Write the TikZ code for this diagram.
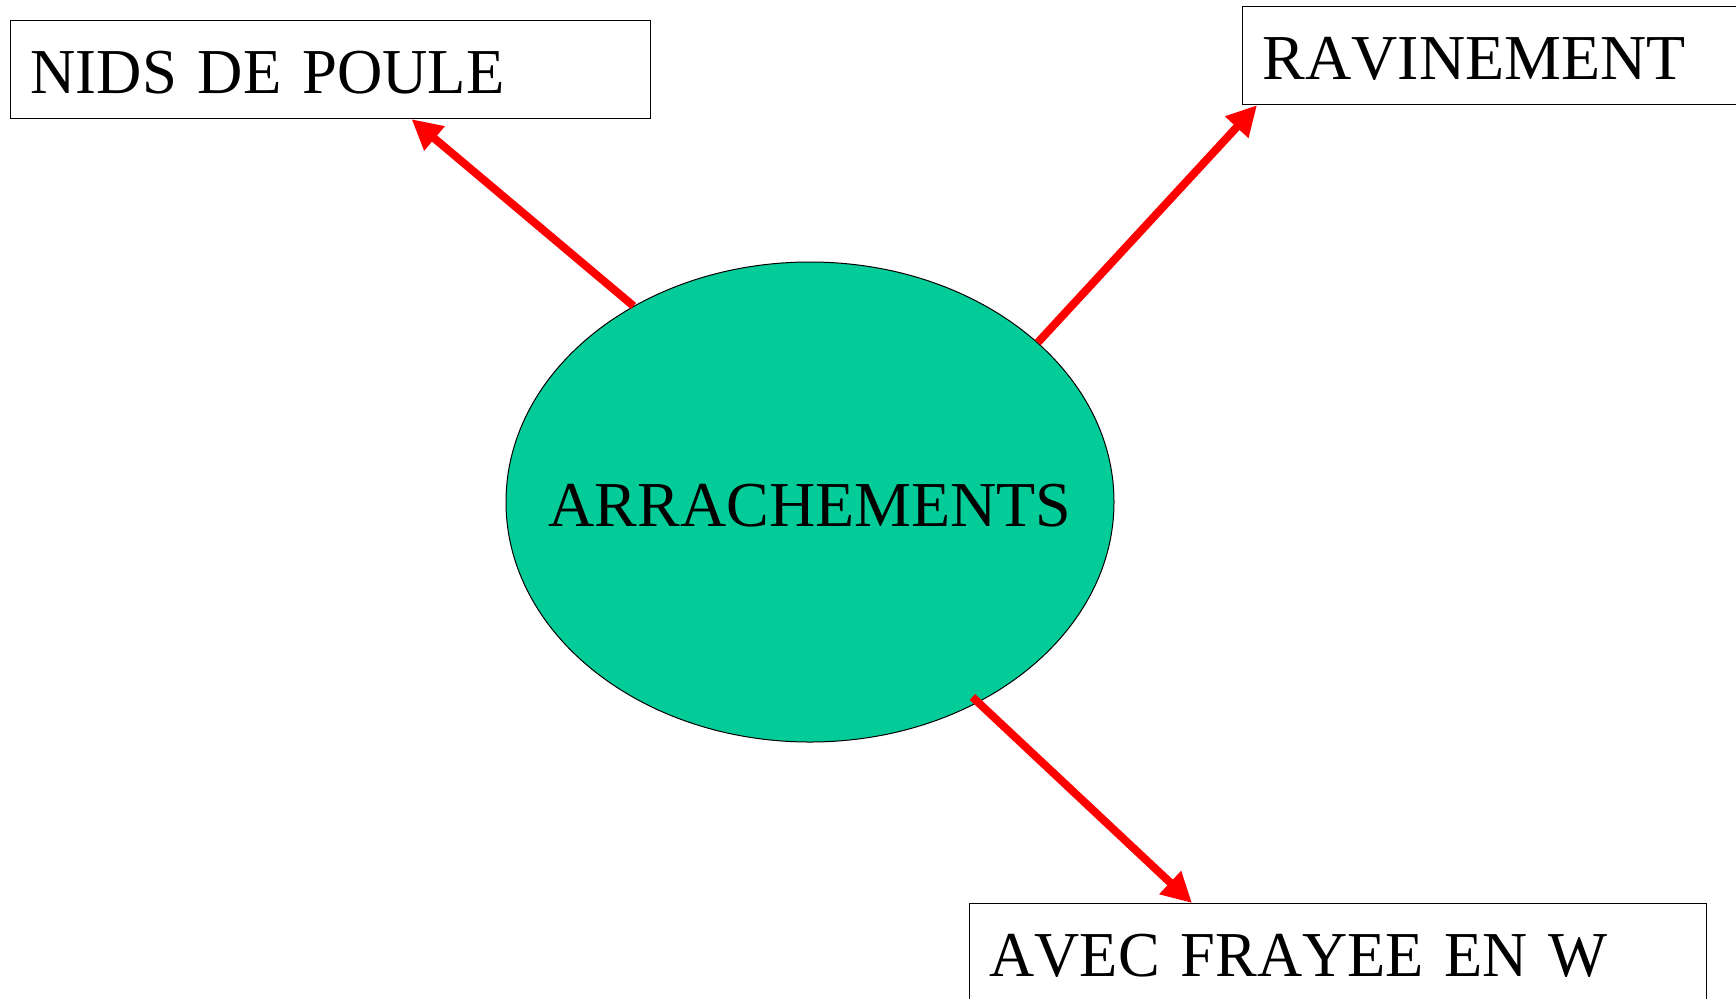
\documentclass[tikz,border=0pt]{standalone}
\usepackage{fontspec}
\setmainfont{Liberation Serif}[Kerning=Off]
\usetikzlibrary{arrows.meta,shapes.geometric}
\definecolor{centregreen}{RGB}{4,204,153}
\definecolor{linkred}{RGB}{255,0,0}
\newcommand{\narrowtext}[2]{\scalebox{#1}[1]{#2}}
\tikzset{
  label box/.style={draw=black, line width=0.6pt, rectangle, anchor=north west,
    inner xsep=10pt, minimum height=49pt, align=left,
    text height=24pt, text depth=0pt,
    font=\fontsize{32}{38}\selectfont},
  hub/.style={ellipse, draw=black, line width=0.5pt, fill=centregreen,
    minimum width=304pt, minimum height=240pt, inner sep=0pt,
    text height=24pt, text depth=0pt,
    font=\fontsize{32}{38}\selectfont},
  link/.style={draw=linkred, line width=4pt,
    -{Triangle[length=15pt,width=15pt]}}
}
\begin{document}
\begin{tikzpicture}[x=0.5pt,y=-0.5pt]
  \useasboundingbox (0,0) rectangle (1736,998);

  % central ellipse; the title is boxed at zero width so the ellipse keeps its size
  \node[hub] (arr) at (810,502) {\makebox[0pt]{ARRACHEMENTS}};

  % outer labels
  \node[label box, text width=300pt] (nids) at (10,20)
    {\narrowtext{0.98}{NIDS DE POULE}};
  \node[label box, text width=300pt] (rav) at (1242,6) {RAVINEMENT};
  \node[label box, text width=348.5pt] (avec) at (969,903)
    {\narrowtext{0.977}{AVEC FRAYEE EN W}};

  % connectors
  \draw[link] (arr.132.8) -- ([xshift=40.5pt]nids.south);
  \draw[link] (arr.35.5) -- ([xshift=7.5pt]rav.south west);
  \draw[link, shorten <=-4pt] (arr.-50) -- ([xshift=111.5pt]avec.north west);
\end{tikzpicture}
\end{document}
